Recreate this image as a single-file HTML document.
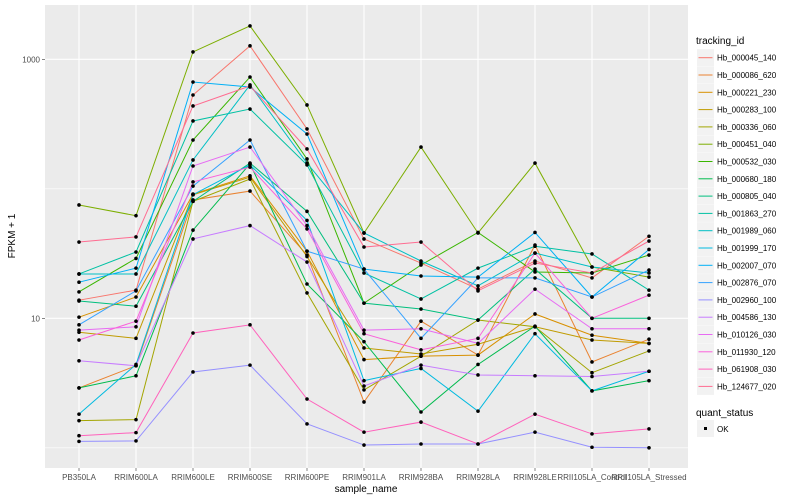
<!DOCTYPE html>
<html><head><meta charset="utf-8">
<style>
body{margin:0;background:#fff;font-family:"Liberation Sans",sans-serif;}
svg{display:block}
</style></head>
<body>
<svg id="chart" width="800" height="500" xmlns="http://www.w3.org/2000/svg">
<rect x="0" y="0" width="800" height="500" fill="#fff"/>
<rect x="45" y="5" width="643" height="463" fill="#ebebeb"/>
<g id="grid"></g>
<g id="series"></g>
<g id="axes"></g>
<g id="legend"></g>
</svg>
<script>
const categories = ["PB350LA","RRIM600LA","RRIM600LE","RRIM600SE","RRIM600PE","RRIM901LA","RRIM928BA","RRIM928LA","RRIM928LE","RRII105LA_Control","RRII105LA_Stressed"];
const seriesNames = ["Hb_000045_140","Hb_000086_620","Hb_000221_230","Hb_000283_100","Hb_000336_060","Hb_000451_040","Hb_000532_030","Hb_000680_180","Hb_000805_040","Hb_001863_270","Hb_001989_060","Hb_001999_170","Hb_002007_070","Hb_002876_070","Hb_002960_100","Hb_004586_130","Hb_010126_030","Hb_011930_120","Hb_061908_030","Hb_124677_020"];
const seriesColors = ["#F8766D","#EA8331","#D89000","#C09B00","#A3A500","#7CAE00","#39B600","#00BB4E","#00BF7D","#00C1A3","#00BFC4","#00BAE0","#00B0F6","#35A2FF","#9590FF","#C77CFF","#E76BF3","#FA62DB","#FF62BC","#FF6C91"];
const s000045 = [13.8,16.5,530,1270,290,41,26.7,16.8,27.7,20.5,43];
const s000086 = [2.9,4.3,82,96,30.8,2.26,9.5,5.2,36.8,4.6,6.9];
const s000221 = [10.2,14.6,91,126,33,4.8,5.1,5.2,10.8,7.4,6.4];
const s000283 = [7.8,7.0,90,123,30,5.9,5.3,6.3,8.6,6.8,6.4];
const s000336 = [1.62,1.65,80,119,15.7,2.8,5.1,9.7,8.6,3.8,5.6];
const s000451 = [75,62,1140,1810,444,45.6,210,45.6,158,24.9,20.8];
const s000532 = [16,29,238,730,170,13.1,25.8,46,22.8,22.4,30.8];
const s000680 = [2.9,3.6,48,156,18.4,6.6,1.89,4.4,8.7,2.75,3.3];
const s000805 = [13.6,12.4,80,158,67,13.1,11.8,9.7,24,10,10];
const s001863 = [22,32.5,334,413,153,22.4,14.1,24.4,36,31.4,16.5];
const s001989 = [22,22,167,634,158,45.6,27.7,17.8,31.9,24.9,22.4];
const s001999 = [1.82,4.4,90,153,57,3.3,4.1,1.92,7.6,2.75,3.9];
const s002007 = [19,24.4,668,611,265,24,21.2,20.8,46,14.6,34];
const s002876 = [8.9,16.3,105,238,33,24,7.0,20.5,20.5,14.6,23.6];
const s002960 = [1.12,1.13,3.85,4.35,1.53,1.05,1.07,1.07,1.32,1.01,1.0];
const s004586 = [4.7,4.3,41,52,27.2,3.0,4.35,3.65,3.6,3.55,3.9];
const s010126 = [8.1,8.6,150,210,52,8.1,8.3,6.4,16.8,8.3,8.3];
const s011930 = [6.8,9.5,113,147,49,7.6,5.7,7.0,31.9,10,15.1];
const s061908 = [1.24,1.31,7.7,8.9,2.38,1.32,1.58,1.07,1.82,1.28,1.40];
const s124677 = [38.8,42.5,436,622,203,35.5,38.8,16.3,26.7,22.4,39.5];
const seriesValues = [s000045,s000086,s000221,s000283,s000336,s000451,s000532,s000680,s000805,s001863,s001989,s001999,s002007,s002876,s002960,s004586,s010126,s011930,s061908,s124677];
const yTickValues = [10,1000];
const yMinorValues = [1,100];

const NS="http://www.w3.org/2000/svg";
function xScale(i){return 79+i*57;}
function yScale(v){return 318.3-129.5*(Math.log10(v)-1);}
function mk(tag,attrs,parent){const e=document.createElementNS(NS,tag);for(const k in attrs)e.setAttribute(k,attrs[k]);parent.appendChild(e);return e;}
const grid=document.getElementById('grid'),ser=document.getElementById('series'),axes=document.getElementById('axes'),leg=document.getElementById('legend');

yMinorValues.forEach(v=>{const l=mk('line',{x1:45,x2:688,y1:yScale(v),y2:yScale(v),stroke:'#fff','stroke-width':0.6},grid);

});
yTickValues.forEach(v=>{const l=mk('line',{x1:45,x2:688,y1:yScale(v),y2:yScale(v),stroke:'#fff','stroke-width':1.1},grid);


const t=mk('text',{x:40,y:yScale(v)+3,'text-anchor':'end','font-size':8,fill:'#4d4d4d'},axes);t.textContent=String(v);


const tk=mk('line',{x1:42,x2:45,y1:yScale(v),y2:yScale(v),stroke:'#333','stroke-width':0.6},axes);

});
categories.forEach((c,i)=>{const l=mk('line',{x1:xScale(i),x2:xScale(i),y1:5,y2:468,stroke:'#fff','stroke-width':1.1},grid);


const tk=mk('line',{x1:xScale(i),x2:xScale(i),y1:468,y2:471,stroke:'#333','stroke-width':0.6},axes);


const t=mk('text',{x:xScale(i),y:480,'text-anchor':'middle','font-size':8,fill:'#4d4d4d'},axes);t.textContent=c;

});
const xt=mk('text',{x:366,y:492,'text-anchor':'middle','font-size':10,fill:'#000'},axes);xt.textContent='sample_name';


const yt=mk('text',{x:15,y:236,'text-anchor':'middle','font-size':10,fill:'#000',transform:'rotate(-90 15 236)'},axes);yt.textContent='FPKM + 1';



seriesValues.forEach((vals,si)=>{
 const g=mk('g',{},ser);
 
 
 const pts=vals.map((v,i)=>xScale(i)+','+yScale(v)).join(' ');
 const pl=mk('polyline',{points:pts,fill:'none',stroke:seriesColors[si],'stroke-width':1},g);
 
 
});
seriesValues.forEach((vals,si)=>{
 vals.forEach((v,i)=>{const c=mk('circle',{cx:xScale(i),cy:yScale(v),r:1.8,fill:'#000'},ser);
 
 });
});

const lt=mk('text',{x:696,y:44,'font-size':10,fill:'#000'},leg);lt.textContent='tracking_id';


seriesNames.forEach((n,i)=>{const y=57.7+i*17.3;
 const g=mk('g',{},leg);
 
 
 mk('rect',{x:697,y:y-8.5,width:17,height:17,fill:'#f2f2f2'},g);
 mk('line',{x1:698.5,x2:712.5,y1:y,y2:y,stroke:seriesColors[i],'stroke-width':1},g);
 const t=mk('text',{x:717,y:y+3,'font-size':8,fill:'#000'},g);t.textContent=n;});
const qt=mk('text',{x:696,y:416,'font-size':10,fill:'#000'},leg);qt.textContent='quant_status';


const qg=mk('g',{},leg);


mk('rect',{x:697,y:420,width:17,height:17,fill:'#f2f2f2'},qg);
mk('rect',{x:704,y:427,width:3,height:3,fill:'#000'},qg);
const ok=mk('text',{x:717,y:432,'font-size':8,fill:'#000'},qg);ok.textContent='OK';
</script>
</body></html>
